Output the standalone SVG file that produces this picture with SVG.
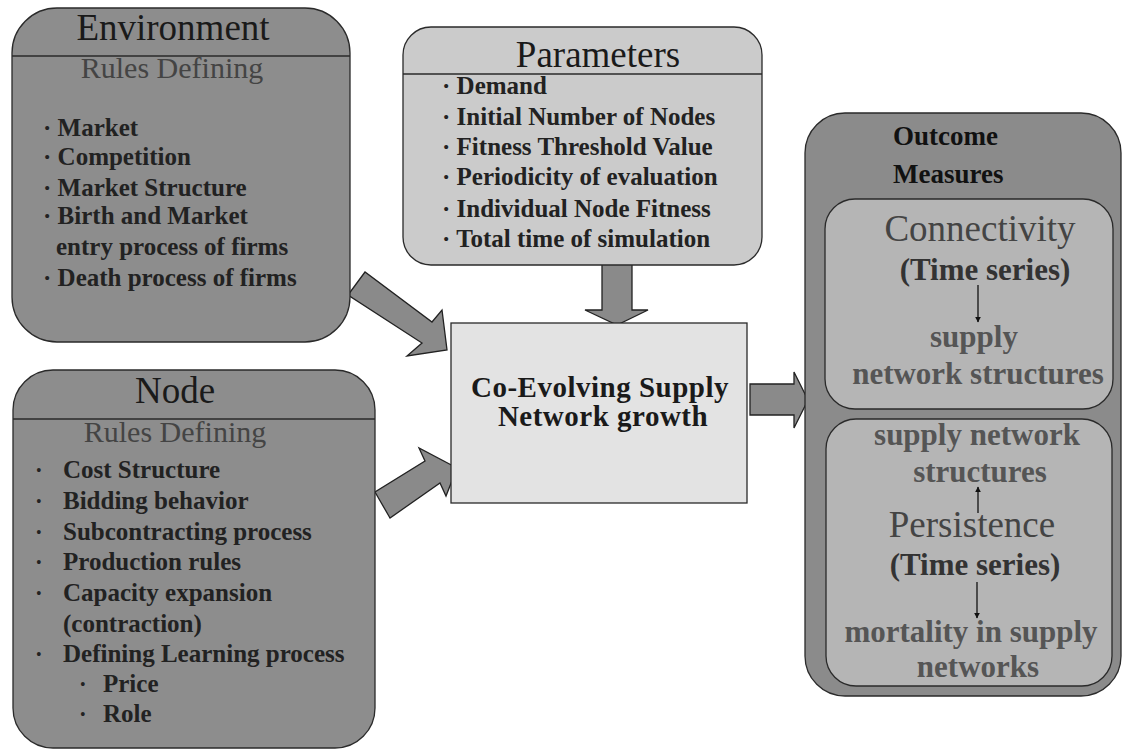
<svg xmlns="http://www.w3.org/2000/svg" width="1122" height="750" viewBox="0 0 1122 750">
  <defs>
    <marker id="tip" viewBox="0 0 10 10" refX="9" refY="5" markerWidth="6" markerHeight="6" markerUnits="userSpaceOnUse" orient="auto">
      <path d="M0,0 L10,5 L0,10 z" fill="#111"/>
    </marker>
  </defs>
  <style>
    text { font-family: "Liberation Serif", "Times New Roman", serif; }
    .box { stroke: #2a2a2a; stroke-width: 1.3; }
    .dark { fill: #8d8d8d; }
    .light { fill: #cbcbcb; }
    .pale { fill: #e3e3e3; }
    .inner { fill: #b5b5b5; }
    .divider { stroke: #2a2a2a; stroke-width: 1.3; }
    .title { font-size: 37px; fill: #1a1a1a; }
    .sub { font-size: 30px; fill: #444; }
    .item { font-size: 25px; font-weight: bold; fill: #222; }
    .item25 { font-size: 25px; font-weight: bold; fill: #222; }
    .dot { font-size: 16px; fill: #222; }
    .center { font-size: 29px; font-weight: bold; fill: #1a1a1a; text-anchor: middle; letter-spacing: 0.5px; }
    .head { font-size: 27px; font-weight: bold; fill: #111; }
    .mtitle { font-size: 37px; fill: #444; text-anchor: middle; }
    .series { font-size: 31px; font-weight: bold; fill: #333; text-anchor: middle; }
    .result { font-size: 31px; font-weight: bold; fill: #555; text-anchor: middle; }
    .fat { fill: #8a8a8a; stroke: #222; stroke-width: 1.3; stroke-linejoin: miter; }
    .thin { stroke: #111; stroke-width: 1.3; fill: none; marker-end: url(#tip); }
  </style>
  <rect width="1122" height="750" fill="#ffffff"/>

  <!-- block arrows feeding and leaving the growth model -->
  <g id="connectors">
    <polygon class="fat" points="348,295 365,272 432,322 442,310 447,350 407,356 422,343"/>
    <polygon class="fat" points="390,518 375,492 425,461 419,448 457,468 446,496 440,483"/>
    <polygon class="fat" points="602,262 632,262 632,310 648,310 617,325 585,310 602,310"/>
    <polygon class="fat" points="750,384 794,384 794,372 808,400 794,428 794,415 750,415"/>
  </g>

  <g id="environment">
    <rect class="box dark" x="12" y="8" width="338" height="334" rx="45" ry="45"/>
    <line class="divider" x1="12" y1="56" x2="350" y2="56"/>
    <text class="title" x="173" y="40" text-anchor="middle">Environment</text>
    <text class="sub" x="172" y="78" text-anchor="middle">Rules Defining</text>
    <text class="item" x="43" y="136">· Market</text>
    <text class="item" x="43" y="165">· Competition</text>
    <text class="item" x="43" y="196">· Market Structure</text>
    <text class="item" x="43" y="224">· Birth and Market</text>
    <text class="item" x="56" y="255">entry process of firms</text>
    <text class="item" x="43" y="286">· Death process of firms</text>
  </g>

  <g id="node">
    <rect class="box dark" x="13" y="370" width="362" height="378" rx="40" ry="40"/>
    <line class="divider" x1="13" y1="419" x2="375" y2="419"/>
    <text class="title" x="175" y="403" text-anchor="middle">Node</text>
    <text class="sub" x="175" y="442" text-anchor="middle">Rules Defining</text>
    <g class="dot">
      <text x="36" y="476">•</text>
      <text x="36" y="507">•</text>
      <text x="36" y="538">•</text>
      <text x="36" y="568">•</text>
      <text x="36" y="599">•</text>
      <text x="36" y="660">•</text>
      <text x="80" y="690">•</text>
      <text x="80" y="720">•</text>
    </g>
    <text class="item25" x="63" y="478">Cost Structure</text>
    <text class="item25" x="63" y="509">Bidding behavior</text>
    <text class="item25" x="63" y="540">Subcontracting process</text>
    <text class="item25" x="63" y="570">Production rules</text>
    <text class="item25" x="63" y="601">Capacity expansion</text>
    <text class="item25" x="63" y="632">(contraction)</text>
    <text class="item25" x="63" y="662">Defining Learning process</text>
    <text class="item25" x="103" y="692">Price</text>
    <text class="item25" x="103" y="722">Role</text>
  </g>

  <g id="parameters">
    <rect class="box light" x="403" y="27" width="359" height="238" rx="28" ry="28"/>
    <line class="divider" x1="403" y1="74" x2="762" y2="74"/>
    <text class="title" x="598" y="67" text-anchor="middle">Parameters</text>
    <text class="item25" x="442" y="94">· Demand</text>
    <text class="item25" x="442" y="125">· Initial Number of Nodes</text>
    <text class="item25" x="442" y="155">· Fitness Threshold Value</text>
    <text class="item25" x="442" y="185">· Periodicity of evaluation</text>
    <text class="item25" x="442" y="217">· Individual Node Fitness</text>
    <text class="item25" x="442" y="247">· Total time of simulation</text>
  </g>

  <g id="growth">
    <rect class="box pale" x="451" y="323" width="296" height="180"/>
    <text class="center" x="600" y="397">Co-Evolving Supply</text>
    <text class="center" x="603" y="426">Network growth</text>
  </g>

  <g id="outcome">
    <rect class="box" fill="#8b8b8b" x="805" y="113" width="316" height="583" rx="40" ry="40"/>
    <text class="head" x="893" y="145">Outcome</text>
    <text class="head" x="893" y="183">Measures</text>

    <g id="connectivity">
      <rect class="box inner" x="825" y="199" width="288" height="210" rx="30" ry="30"/>
      <text class="mtitle" x="980" y="241">Connectivity</text>
      <text class="series" x="985" y="280">(Time series)</text>
      <line class="thin" x1="978" y1="285" x2="978" y2="322"/>
      <text class="result" x="974" y="347">supply</text>
      <text class="result" x="978" y="384">network structures</text>
    </g>

    <g id="persistence">
      <rect class="box inner" x="826" y="419" width="286" height="267" rx="30" ry="30"/>
      <text class="result" x="977" y="445">supply network</text>
      <text class="result" x="980" y="482">structures</text>
      <line class="thin" x1="978" y1="513" x2="978" y2="487"/>
      <text class="mtitle" x="972" y="537">Persistence</text>
      <text class="series" x="975" y="575">(Time series)</text>
      <line class="thin" x1="977" y1="582" x2="977" y2="618"/>
      <text class="result" x="971" y="642">mortality in supply</text>
      <text class="result" x="978" y="677">networks</text>
    </g>
  </g>
</svg>
